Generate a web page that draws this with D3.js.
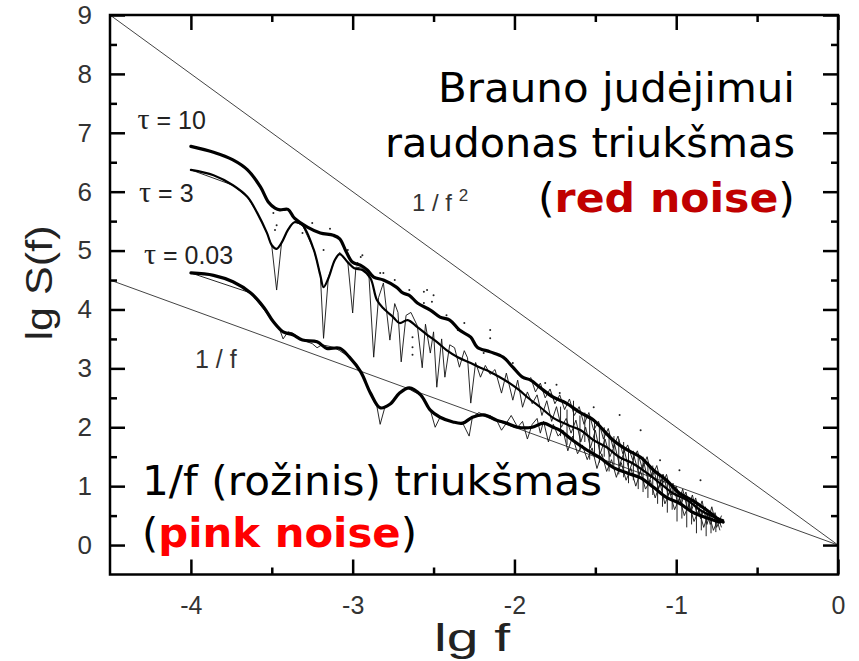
<!DOCTYPE html>
<html>
<head>
<meta charset="utf-8">
<script src="https://cdn.jsdelivr.net/npm/d3@7"></script>
<style>
  html, body { margin: 0; padding: 0; background: #fff; }
  svg { display: block; }
</style>
</head>
<body>
<svg id="chart" width="859" height="661"></svg>
<script>
// ---- data (lg f, lg S(f)) ----
const xMajorTicks = [-4, -3, -2, -1, 0];
const xMinorTicks = [-3.5, -2.5, -1.5, -0.5];
const yMajorTicks = [0, 1, 2, 3, 4, 5, 6, 7, 8, 9];
const yMinorTicks = [0.5, 1.5, 2.5, 3.5, 4.5, 5.5, 6.5, 7.5, 8.5];

// reference power laws through the origin
const lineRedNoise = [[-4.5, 9], [0, 0]];     // 1/f^2
const linePinkNoise = [[-4.5, 4.5], [0, 0]];  // 1/f

// smoothed spectra
const tau10Smooth = [
  [-4.00, 6.77], [-3.86, 6.67], [-3.74, 6.54], [-3.65, 6.37], [-3.57, 6.08], [-3.52, 5.82],
  [-3.48, 5.72], [-3.45, 5.69], [-3.40, 5.70], [-3.36, 5.55], [-3.28, 5.40], [-3.20, 5.30],
  [-3.12, 5.26], [-3.08, 5.20], [-3.04, 4.98], [-3.00, 4.80], [-2.95, 4.75], [-2.91, 4.67],
  [-2.87, 4.55], [-2.81, 4.50], [-2.73, 4.38], [-2.69, 4.28], [-2.65, 4.24], [-2.60, 4.11],
  [-2.52, 3.99], [-2.46, 3.87], [-2.40, 3.82], [-2.34, 3.65], [-2.27, 3.53], [-2.23, 3.36],
  [-2.15, 3.28], [-2.07, 3.19], [-2.01, 3.02], [-1.95, 2.85], [-1.90, 2.80], [-1.84, 2.67],
  [-1.76, 2.51], [-1.68, 2.41], [-1.60, 2.26], [-1.51, 2.12], [-1.45, 1.95], [-1.39, 1.78],
  [-1.30, 1.61], [-1.22, 1.49], [-1.14, 1.27], [-1.06, 1.10], [-0.98, 0.88], [-0.90, 0.76],
  [-0.81, 0.59], [-0.73, 0.42], [-0.71, 0.39]
];
const tau3Smooth = [
  [-4.00, 6.37], [-3.86, 6.28], [-3.74, 6.11], [-3.65, 5.91], [-3.59, 5.64], [-3.53, 5.30],
  [-3.50, 5.09], [-3.47, 5.03], [-3.44, 5.13], [-3.40, 5.35], [-3.36, 5.48], [-3.31, 5.43],
  [-3.24, 5.01], [-3.20, 4.58], [-3.18, 4.38], [-3.15, 4.53], [-3.11, 4.84], [-3.08, 4.94],
  [-3.03, 4.80], [-2.99, 4.70], [-2.94, 4.67], [-2.89, 4.53], [-2.85, 4.16], [-2.81, 4.02],
  [-2.75, 3.87], [-2.71, 3.77], [-2.66, 3.82], [-2.60, 3.70], [-2.54, 3.57], [-2.48, 3.45],
  [-2.42, 3.31], [-2.35, 3.19], [-2.27, 3.09], [-2.21, 3.01], [-2.15, 2.94], [-2.09, 2.85],
  [-2.03, 2.75], [-1.97, 2.63], [-1.92, 2.51], [-1.84, 2.34], [-1.76, 2.16], [-1.67, 2.04],
  [-1.59, 1.95], [-1.51, 1.78], [-1.43, 1.66], [-1.35, 1.49], [-1.27, 1.39], [-1.18, 1.22],
  [-1.10, 1.05], [-1.02, 0.88], [-0.93, 0.76], [-0.85, 0.59], [-0.77, 0.48], [-0.71, 0.42]
];
const tau003Smooth = [
  [-4.00, 4.62], [-3.86, 4.58], [-3.74, 4.47], [-3.63, 4.28], [-3.55, 4.04], [-3.49, 3.79],
  [-3.43, 3.62], [-3.37, 3.57], [-3.31, 3.48], [-3.22, 3.45], [-3.16, 3.34], [-3.08, 3.34],
  [-3.02, 3.19], [-2.95, 2.94], [-2.89, 2.58], [-2.83, 2.33], [-2.77, 2.39], [-2.71, 2.58],
  [-2.65, 2.67], [-2.58, 2.55], [-2.52, 2.29], [-2.46, 2.17], [-2.38, 2.09], [-2.32, 2.07],
  [-2.26, 2.17], [-2.19, 2.21], [-2.11, 2.12], [-2.05, 2.07], [-1.98, 2.00], [-1.89, 2.00],
  [-1.82, 2.07], [-1.76, 2.00], [-1.72, 1.95], [-1.64, 1.78], [-1.55, 1.61], [-1.47, 1.48],
  [-1.39, 1.32], [-1.30, 1.22], [-1.22, 1.14], [-1.14, 0.98], [-1.06, 0.81], [-0.98, 0.71],
  [-0.90, 0.56], [-0.81, 0.46], [-0.73, 0.39]
];

// raw periodograms
const tau3Raw = [
  [-4.00, 6.37], [-3.74, 6.11], [-3.65, 5.91], [-3.59, 5.64], [-3.53, 5.30], [-3.50, 5.08],
  [-3.47, 4.33], [-3.44, 5.12], [-3.40, 5.36], [-3.36, 5.49], [-3.31, 5.43], [-3.24, 5.01],
  [-3.20, 4.60], [-3.18, 3.51], [-3.15, 4.55], [-3.11, 4.85], [-3.08, 4.97], [-3.03, 4.80],
  [-3.00, 3.94], [-2.98, 4.72], [-2.94, 4.70], [-2.90, 4.60], [-2.87, 3.19], [-2.84, 4.20],
  [-2.81, 4.45], [-2.77, 3.48], [-2.74, 4.10], [-2.72, 3.95], [-2.70, 3.11], [-2.67, 3.90],
  [-2.64, 3.95], [-2.60, 3.72], [-2.57, 3.01], [-2.55, 3.75], [-2.52, 3.26], [-2.50, 3.62],
  [-2.48, 2.68], [-2.45, 3.50], [-2.43, 2.85], [-2.40, 3.40], [-2.37, 3.35], [-2.34, 3.02],
  [-2.31, 3.30], [-2.29, 3.18], [-2.27, 2.41], [-2.24, 3.10], [-2.21, 2.85], [-2.18, 3.05],
  [-2.15, 2.90], [-2.12, 2.98], [-2.08, 2.58], [-2.05, 2.92], [-2.01, 2.46], [-1.98, 2.80],
  [-1.95, 2.34], [-1.92, 2.60], [-1.89, 2.40], [-1.86, 2.55], [-1.83, 2.20], [-1.80, 2.45],
  [-1.77, 2.10], [-1.74, 2.35], [-1.71, 2.00], [-1.68, 2.15], [-1.65, 1.90], [-1.62, 2.12],
  [-1.59, 1.75], [-1.56, 2.00], [-1.53, 1.65], [-1.50, 1.95], [-1.47, 1.55], [-1.44, 1.80],
  [-1.41, 1.50], [-1.38, 1.70], [-1.35, 1.35], [-1.32, 1.60], [-1.29, 1.25], [-1.26, 1.50],
  [-1.23, 1.20], [-1.20, 1.40], [-1.17, 1.05], [-1.14, 1.30], [-1.11, 0.95], [-1.08, 1.20],
  [-1.05, 0.85], [-1.02, 1.05], [-0.99, 0.70], [-0.96, 0.95], [-0.93, 0.60], [-0.90, 0.85],
  [-0.87, 0.50], [-0.84, 0.75], [-0.81, 0.35], [-0.78, 0.65], [-0.75, 0.30], [-0.72, 0.50]
];
const tau003Raw = [
  [-4.00, 4.62], [-3.63, 4.28], [-3.49, 3.79], [-3.45, 3.65], [-3.43, 3.50], [-3.40, 3.62],
  [-3.37, 3.60], [-3.31, 3.48], [-3.25, 3.42], [-3.22, 3.35], [-3.19, 3.40], [-3.12, 3.36],
  [-3.08, 3.30], [-3.02, 3.19], [-2.95, 2.94], [-2.89, 2.58], [-2.85, 2.35], [-2.83, 2.05],
  [-2.80, 2.35], [-2.77, 2.40], [-2.71, 2.58], [-2.67, 2.68], [-2.62, 2.60], [-2.58, 2.55],
  [-2.52, 2.29], [-2.49, 2.00], [-2.46, 2.17], [-2.42, 2.12], [-2.38, 2.09], [-2.32, 2.07],
  [-2.28, 1.85], [-2.26, 2.17], [-2.22, 2.25], [-2.19, 2.21], [-2.15, 2.20], [-2.11, 2.12],
  [-2.08, 1.95], [-2.05, 2.07], [-2.02, 2.20], [-1.98, 2.00], [-1.95, 2.10], [-1.92, 1.80],
  [-1.89, 2.05], [-1.86, 2.15], [-1.84, 1.90], [-1.82, 2.10], [-1.79, 1.75], [-1.76, 2.05],
  [-1.73, 1.85], [-1.70, 1.95], [-1.67, 1.60], [-1.64, 1.85], [-1.61, 1.55], [-1.58, 1.70],
  [-1.55, 1.45], [-1.52, 1.65], [-1.49, 1.30], [-1.46, 1.55], [-1.43, 1.25], [-1.40, 1.45],
  [-1.37, 1.15], [-1.34, 1.40], [-1.31, 1.10], [-1.28, 1.30], [-1.25, 1.00], [-1.22, 1.25],
  [-1.19, 0.95], [-1.16, 1.10], [-1.13, 0.80], [-1.10, 1.05], [-1.07, 0.70], [-1.04, 0.90],
  [-1.01, 0.60], [-0.98, 0.80], [-0.95, 0.50], [-0.92, 0.70], [-0.89, 0.40], [-0.86, 0.60],
  [-0.83, 0.30], [-0.80, 0.55], [-0.77, 0.25], [-0.74, 0.45], [-0.72, 0.30]
];
const tau10Raw = [
  [-1.90, 2.85], [-1.87, 2.60], [-1.84, 2.75], [-1.81, 2.50], [-1.78, 2.65], [-1.75, 2.40],
  [-1.72, 2.55], [-1.69, 2.30], [-1.66, 2.48], [-1.63, 2.20], [-1.60, 2.35], [-1.57, 2.05],
  [-1.54, 2.25], [-1.51, 1.95], [-1.48, 2.10], [-1.45, 1.80], [-1.42, 1.98], [-1.39, 1.65],
  [-1.36, 1.85], [-1.33, 1.55], [-1.30, 1.70], [-1.27, 1.45], [-1.24, 1.60], [-1.21, 1.30],
  [-1.18, 1.50], [-1.15, 1.15], [-1.12, 1.35], [-1.09, 1.00], [-1.06, 1.20], [-1.03, 0.85],
  [-1.00, 1.00], [-0.97, 0.70], [-0.94, 0.90], [-0.91, 0.55], [-0.88, 0.80], [-0.85, 0.45],
  [-0.82, 0.65], [-0.79, 0.35], [-0.76, 0.55], [-0.73, 0.25]
];
// high-frequency scatter of the periodograms: [lg f, low, high]
const noiseHatch = [
  [-1.715, 1.85, 2.35], [-1.675, 1.70, 2.30], [-1.635, 1.80, 2.45], [-1.595, 1.60, 2.20],
  [-1.565, 1.75, 2.25], [-1.535, 1.45, 2.15], [-1.505, 1.55, 2.10], [-1.475, 1.40, 2.05],
  [-1.445, 1.50, 2.00], [-1.415, 1.25, 1.90], [-1.385, 1.35, 1.85], [-1.355, 1.20, 1.80],
  [-1.325, 1.15, 1.75], [-1.295, 1.05, 1.65], [-1.265, 1.10, 1.60], [-1.235, 0.95, 1.55],
  [-1.205, 0.90, 1.50], [-1.175, 0.80, 1.40], [-1.145, 0.85, 1.35], [-1.115, 0.70, 1.25],
  [-1.085, 0.65, 1.20], [-1.055, 0.55, 1.10], [-1.025, 0.60, 1.00], [-0.995, 0.40, 0.95],
  [-0.965, 0.45, 0.90], [-0.935, 0.30, 0.80], [-0.905, 0.35, 0.75], [-0.875, 0.20, 0.70],
  [-0.845, 0.25, 0.60], [-0.815, 0.15, 0.55], [-0.785, 0.20, 0.50], [-0.755, 0.22, 0.48]
];
const tau10Points = [
  [-3.48, 5.35], [-3.42, 5.69], [-3.49, 5.64], [-3.47, 5.43], [-3.31, 5.30], [-3.25, 5.47],
  [-3.18, 5.01], [-3.14, 5.37], [-3.03, 5.01], [-2.97, 4.79], [-2.94, 4.92], [-2.95, 4.89],
  [-2.83, 4.62], [-2.81, 4.62], [-2.74, 4.50], [-2.72, 4.36], [-2.65, 4.33], [-2.56, 4.30],
  [-2.54, 4.33], [-2.50, 4.24], [-2.56, 4.11], [-2.51, 4.13], [-2.42, 3.90], [-2.63, 3.53],
  [-2.63, 3.36], [-2.63, 3.23], [-2.35, 3.65], [-2.31, 3.77], [-2.15, 3.65], [-2.15, 3.51],
  [-2.19, 3.26], [-2.05, 3.14], [-2.01, 3.09], [-1.81, 2.75], [-1.74, 2.72], [-1.72, 2.58],
  [-1.51, 2.34], [-1.35, 2.21], [-1.22, 1.95], [-1.10, 1.44], [-0.98, 1.27], [-0.85, 1.10]
];

const tauLabels = ["10", "3", "0.03"];
const tauLabelPos = [[-4.33, 7.07], [-4.32, 5.83], [-4.29, 4.78]];

// ---- layout ----
const svg = d3.select("#chart");
const plotLeft = 110, plotRight = 838, plotTop = 15, plotBottom = 574.5;
const x = d3.scaleLinear().domain([-4.5, 0]).range([plotLeft, plotRight]);
const y = d3.scaleLinear().domain([-0.5, 9]).range([plotBottom, plotTop]);

const tickFont = "'Liberation Sans', Arial, sans-serif";
const textFont = "'DejaVu Sans', Verdana, sans-serif";

// power-law guide lines
const straight = d3.line().x(d => x(d[0])).y(d => y(d[1]));
[lineRedNoise, linePinkNoise].forEach(seg => {
  svg.append("path").attr("d", straight(seg))
    .attr("fill", "none").attr("stroke", "#444").attr("stroke-width", 1);
});

// raw spectra (thin)
const rawLine = d3.line().x(d => x(d[0])).y(d => y(d[1]));
[tau10Raw, tau3Raw, tau003Raw].forEach(s => {
  svg.append("path").attr("d", rawLine(s))
    .attr("fill", "none").attr("stroke", "#111").attr("stroke-width", 0.9)
    .attr("stroke-linejoin", "miter");
});
svg.append("g").selectAll("line").data(noiseHatch).join("line")
  .attr("x1", d => x(d[0])).attr("x2", d => x(d[0]))
  .attr("y1", d => y(d[1])).attr("y2", d => y(d[2]))
  .attr("stroke", "#222").attr("stroke-width", 1);

svg.append("g").selectAll("circle").data(tau10Points).join("circle")
  .attr("cx", d => x(d[0])).attr("cy", d => y(d[1])).attr("r", 1)
  .attr("fill", "#222");

// smoothed spectra
const smoothLine = d3.line().x(d => x(d[0])).y(d => y(d[1])).curve(d3.curveCatmullRom.alpha(0.5));
[[tau10Smooth, 3.2], [tau3Smooth, 2.2], [tau003Smooth, 3.2]].forEach(([s, w]) => {
  svg.append("path").attr("d", smoothLine(s))
    .attr("fill", "none").attr("stroke", "#000").attr("stroke-width", w)
    .attr("stroke-linejoin", "round").attr("stroke-linecap", "round");
});

// ---- axes: ticks pointing inward on all four sides ----
function styleAxis(g) {
  g.select(".domain").remove();
  g.selectAll(".tick line").attr("stroke", "#000").attr("stroke-width", 2.5);
  g.selectAll(".tick text").attr("fill", "#333").attr("font-family", tickFont);
}
const plainNumber = d => String(d);

svg.append("g").attr("transform", `translate(${plotLeft},0)`)
  .call(d3.axisLeft(y).tickValues(yMajorTicks).tickSize(-15).tickPadding(18).tickFormat(plainNumber))
  .call(styleAxis).call(g => g.selectAll(".tick text").attr("font-size", 26));
svg.append("g").attr("transform", `translate(${plotLeft},0)`)
  .call(d3.axisLeft(y).tickValues(yMinorTicks).tickSize(-7).tickFormat(""))
  .call(styleAxis);
svg.append("g").attr("transform", `translate(${plotRight},0)`)
  .call(d3.axisRight(y).tickValues(yMajorTicks).tickSize(-15).tickFormat(""))
  .call(styleAxis);
svg.append("g").attr("transform", `translate(${plotRight},0)`)
  .call(d3.axisRight(y).tickValues(yMinorTicks).tickSize(-7).tickFormat(""))
  .call(styleAxis);

svg.append("g").attr("transform", `translate(0,${plotBottom})`)
  .call(d3.axisBottom(x).tickValues(xMajorTicks).tickSize(-15).tickPadding(22).tickFormat(plainNumber))
  .call(styleAxis).call(g => g.selectAll(".tick text").attr("font-size", 25));
svg.append("g").attr("transform", `translate(0,${plotBottom})`)
  .call(d3.axisBottom(x).tickValues(xMinorTicks).tickSize(-7).tickFormat(""))
  .call(styleAxis);
svg.append("g").attr("transform", `translate(0,${plotTop})`)
  .call(d3.axisTop(x).tickValues(xMajorTicks).tickSize(-15).tickFormat(""))
  .call(styleAxis);
svg.append("g").attr("transform", `translate(0,${plotTop})`)
  .call(d3.axisTop(x).tickValues(xMinorTicks).tickSize(-7).tickFormat(""))
  .call(styleAxis);

// frame
svg.append("rect").attr("x", plotLeft).attr("y", plotTop)
  .attr("width", plotRight - plotLeft).attr("height", plotBottom - plotTop)
  .attr("fill", "none").attr("stroke", "#000").attr("stroke-width", 2.5);

// axis titles
svg.append("text").attr("x", 472).attr("y", 651).attr("text-anchor", "middle")
  .attr("font-family", tickFont).attr("font-size", 38).attr("fill", "#222")
  .attr("textLength", 76).attr("lengthAdjust", "spacingAndGlyphs").text("lg f");
svg.append("text").attr("transform", "translate(52,283) rotate(-90)").attr("text-anchor", "middle")
  .attr("font-family", tickFont).attr("font-size", 36).attr("fill", "#222")
  .attr("textLength", 115).attr("lengthAdjust", "spacingAndGlyphs").text("lg S(f)");

// tau labels
tauLabels.forEach((t, i) => {
  const tx = svg.append("text").attr("x", x(tauLabelPos[i][0])).attr("y", y(tauLabelPos[i][1]))
    .attr("font-family", tickFont).attr("font-size", 25).attr("fill", "#222");
  tx.append("tspan").attr("font-family", "'Liberation Serif', serif").attr("font-size", 30).text("τ");
  tx.append("tspan").text(" = " + t);
});

// slope labels
const f2 = svg.append("text").attr("x", 412).attr("y", 211)
  .attr("font-family", tickFont).attr("font-size", 24).attr("fill", "#333");
f2.append("tspan").text("1 / f ");
f2.append("tspan").attr("font-size", 17).attr("dy", -10).text("2");
svg.append("text").attr("x", 195).attr("y", 368)
  .attr("font-family", tickFont).attr("font-size", 25).attr("fill", "#333").text("1 / f");

// annotations
function bigText(xp, yp, anchor, parts, len) {
  const t = svg.append("text").attr("x", xp).attr("y", yp).attr("text-anchor", anchor)
    .attr("font-family", textFont).attr("font-size", 40).attr("fill", "#000")
    .attr("textLength", len).attr("lengthAdjust", "spacingAndGlyphs");
  parts.forEach(p => {
    const s = t.append("tspan").text(p.text);
    if (p.color) s.attr("fill", p.color).attr("font-weight", "bold");
  });
}
bigText(795, 102, "end", [{ text: "Brauno judėjimui" }], 357);
bigText(795, 157, "end", [{ text: "raudonas triukšmas" }], 410);
bigText(795, 212, "end", [{ text: "(" }, { text: "red noise", color: "#c00000" }, { text: ")" }], 257);
bigText(142, 495, "start", [{ text: "1/f (rožinis) triukšmas" }], 460);
bigText(142, 547, "start", [{ text: "(" }, { text: "pink noise", color: "#ff0000" }, { text: ")" }], 275);
</script>
</body>
</html>
